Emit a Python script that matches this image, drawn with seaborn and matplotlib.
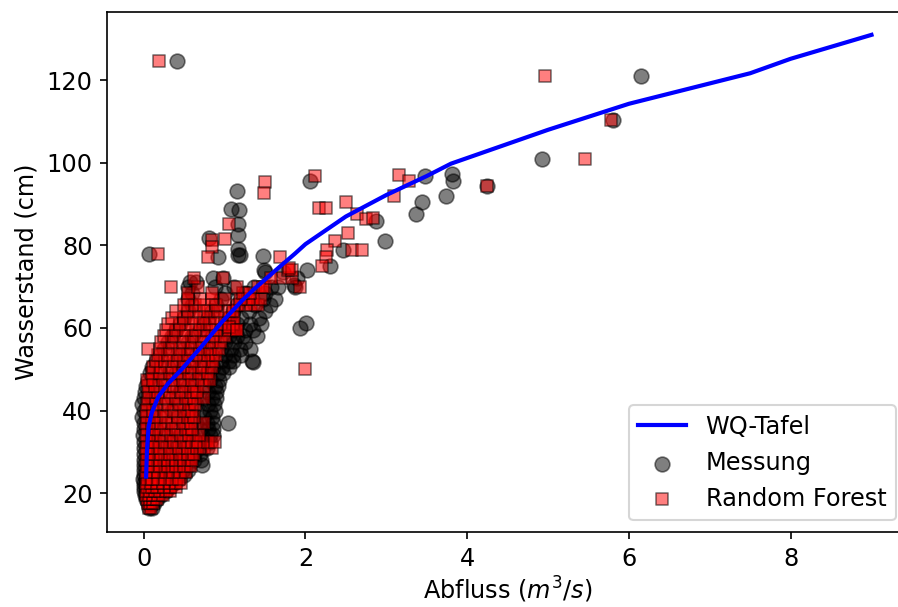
import matplotlib
matplotlib.use('Agg')
import matplotlib.pyplot as plt
import seaborn as sns
import pandas as pd

plt.rcParams['font.size'] = 11.5

# WQ-Tafel (rating curve)
wq_q = [0.03, 0.04, 0.06, 0.1, 0.18, 0.3, 0.47, 0.71, 0.96, 1.21, 1.37, 1.68, 1.87,
        2.0, 2.5, 3.0, 3.5, 3.8, 5.0, 6.0, 7.5, 8.0, 9.0]
wq_h = [24, 30, 36, 39.5, 43.3, 46.5, 50, 55.4, 61.3, 66.5, 69.5, 74.8, 78,
        80.3, 87, 92.2, 96.8, 99.8, 108, 114.3, 121.7, 125.2, 131]

# Messung: dense core, one row of discharge values per water level
messung_core_h = [16.5, 17.5, 18.5, 19.5, 20.5, 21.5, 22.5, 23.5, 24.5, 25.5, 26.8, 28,
                  29.5, 31, 32.5, 34, 35.5, 37, 38.5, 40, 41.5, 43, 44.5, 46, 47.5, 49,
                  50.5, 52, 53.5, 55, 56.5, 58, 59.5, 61, 62.5, 64, 65.5, 67, 68.5, 70,
                  71.2, 72]
messung_core_q = [
    [0.07, 0.10],
    [0.05, 0.09, 0.13],
    [0.03, 0.07, 0.11, 0.16],
    [0.02, 0.06, 0.10, 0.15, 0.21],
    [0.0, 0.04, 0.09, 0.14, 0.2, 0.27],
    [0.0, 0.05, 0.1, 0.17, 0.25, 0.33],
    [0.0, 0.04, 0.09, 0.15, 0.22, 0.3, 0.38],
    [-0.01, 0.03, 0.08, 0.14, 0.2, 0.28, 0.36, 0.44],
    [0.0, 0.05, 0.12, 0.18, 0.26, 0.34, 0.42, 0.5],
    [0.0, 0.06, 0.13, 0.22, 0.3, 0.4, 0.48, 0.55],
    [0.0, 0.05, 0.14, 0.25, 0.35, 0.46, 0.56, 0.72],
    [0.0, 0.07, 0.18, 0.3, 0.42, 0.54, 0.62, 0.71],
    [0.0, 0.08, 0.2, 0.35, 0.5, 0.62, 0.7],
    [0.0, 0.1, 0.25, 0.4, 0.55, 0.68, 0.78],
    [0.0, 0.08, 0.2, 0.35, 0.5, 0.65, 0.75, 0.82],
    [-0.01, 0.1, 0.28, 0.45, 0.6, 0.72, 0.82, 0.86],
    [0.0, 0.15, 0.35, 0.55, 0.7, 0.8, 0.86],
    [0.0, 0.1, 0.3, 0.5, 0.65, 0.78, 0.86, 1.04],
    [-0.02, 0.2, 0.42, 0.6, 0.75, 0.85],
    [0.0, 0.12, 0.35, 0.55, 0.7, 0.82, 0.88],
    [-0.02, 0.25, 0.45, 0.65, 0.8, 0.87],
    [0.0, 0.1, 0.35, 0.55, 0.72, 0.85, 0.9],
    [0.02, 0.2, 0.45, 0.65, 0.8, 0.9],
    [0.03, 0.15, 0.35, 0.55, 0.75, 0.88, 0.92],
    [0.05, 0.25, 0.45, 0.65, 0.82, 0.93],
    [0.08, 0.2, 0.4, 0.6, 0.78, 0.92, 0.98],
    [0.1, 0.3, 0.5, 0.7, 0.86, 0.97, 1.05],
    [0.15, 0.4, 0.6, 0.8, 0.95, 1.05, 1.1, 1.34],
    [0.2, 0.45, 0.65, 0.85, 1.0, 1.1, 1.2],
    [0.25, 0.5, 0.75, 0.95, 1.08, 1.19, 1.31],
    [0.3, 0.55, 0.8, 1.0, 1.12, 1.25],
    [0.35, 0.6, 0.85, 1.05, 1.15, 1.23, 1.4],
    [0.4, 0.7, 0.95, 1.1, 1.25, 1.35],
    [0.45, 0.75, 1.0, 1.15, 1.31, 1.45],
    [0.5, 0.8, 1.05, 1.2, 1.43],
    [0.55, 0.85, 1.1, 1.3, 1.5],
    [0.6, 0.9, 1.15, 1.38, 1.56],
    [0.55, 0.95, 1.2, 1.47, 1.62],
    [0.6, 1.0, 1.25, 1.5],
    [0.55, 0.88, 1.12, 1.37, 1.58, 1.66, 1.87],
    [0.57, 0.65],
    [0.86, 0.98, 1.89],
]
# Messung: scattered points
messung_q = [1.5, 1.72, 1.49, 2.02, 0.066, 0.81, 0.92, 1.19, 1.47, 1.15, 1.08, 1.18, 1.17,
             1.17, 1.17, 1.17, 0.415, 2.06, 2.87, 3.48, 3.81, 3.83, 3.74, 3.44, 3.37,
             2.46, 2.98, 2.3, 1.86, 2.01, 1.93, 1.35, 4.25, 4.93, 5.8, 6.15]
messung_h = [73.6, 73.6, 74, 74, 77.8, 81.7, 77.2, 77.6, 77.5, 93.1, 88.7, 88.5, 85.3,
             82.5, 79.2, 77.6, 124.6, 95.5, 86, 96.7, 97.2, 95.5, 92, 90.4, 87.7,
             79, 81, 75, 70.5, 61.2, 60, 51.8, 94.3, 101, 110.3, 121]

# Random Forest: dense core
rf_core_h = [16.5, 17.5, 18.5, 19.5, 20.5, 21.5, 22.5, 23.5, 25, 26.5, 28, 29.5, 31,
             32.5, 34, 35.5, 37, 38.5, 40, 41.5, 43, 44.5, 46, 47.5, 49, 50.5, 52,
             53.5, 55, 56.5, 58, 59.5, 61, 62.5, 64, 65.5, 67, 68.5, 70, 72, 74]
rf_core_q = [
    [0.06, 0.09],
    [0.05, 0.08, 0.12],
    [0.04, 0.08, 0.12, 0.17],
    [0.03, 0.07, 0.12, 0.18, 0.24],
    [0.03, 0.08, 0.14, 0.2, 0.27, 0.33],
    [0.04, 0.1, 0.17, 0.25, 0.33, 0.4],
    [0.03, 0.09, 0.16, 0.24, 0.32, 0.4, 0.46],
    [0.04, 0.1, 0.18, 0.26, 0.35, 0.44],
    [0.03, 0.1, 0.18, 0.27, 0.36, 0.45, 0.52],
    [0.04, 0.12, 0.2, 0.3, 0.4, 0.5, 0.58],
    [0.03, 0.1, 0.2, 0.3, 0.4, 0.5, 0.6],
    [0.04, 0.12, 0.22, 0.33, 0.45, 0.55, 0.62],
    [0.03, 0.1, 0.2, 0.32, 0.44, 0.55, 0.66, 0.75, 0.84],
    [0.04, 0.14, 0.26, 0.38, 0.5, 0.6, 0.67, 0.8, 0.88],
    [0.03, 0.1, 0.22, 0.34, 0.46, 0.56, 0.69],
    [0.04, 0.15, 0.28, 0.4, 0.52, 0.6],
    [0.03, 0.1, 0.22, 0.35, 0.48, 0.58, 0.75],
    [0.04, 0.15, 0.28, 0.42, 0.55, 0.62],
    [0.03, 0.12, 0.25, 0.38, 0.5, 0.6],
    [0.04, 0.16, 0.3, 0.44, 0.56, 0.63],
    [0.05, 0.15, 0.28, 0.4, 0.52, 0.62, 0.75],
    [0.06, 0.18, 0.32, 0.46, 0.58, 0.66],
    [0.05, 0.14, 0.26, 0.38, 0.5, 0.62, 0.74],
    [0.04, 0.12, 0.24, 0.36, 0.48, 0.6, 0.72, 0.82],
    [0.1, 0.2, 0.32, 0.44, 0.56, 0.68, 0.8],
    [0.12, 0.22, 0.35, 0.48, 0.6, 0.72, 0.84],
    [0.15, 0.26, 0.38, 0.5, 0.62, 0.74, 0.86],
    [0.18, 0.3, 0.42, 0.55, 0.68, 0.8, 0.9],
    [0.05, 0.2, 0.32, 0.45, 0.58, 0.7, 0.82, 0.93],
    [0.22, 0.35, 0.48, 0.6, 0.72, 0.85, 0.95],
    [0.25, 0.38, 0.5, 0.62, 0.75, 0.88, 1.0],
    [0.28, 0.4, 0.52, 0.65, 0.78, 0.9, 1.06, 1.15],
    [0.3, 0.45, 0.58, 0.7, 0.82, 0.95, 1.1],
    [0.35, 0.5, 0.62, 0.75, 0.88, 1.0, 1.12],
    [0.4, 0.55, 0.68, 0.8, 0.92, 1.05, 1.1],
    [0.5, 0.63, 0.75, 0.9, 1.15, 1.27, 1.33, 1.41],
    [0.55, 0.7, 0.84, 1.0, 1.19, 1.29, 1.35, 1.45],
    [0.55, 0.84, 1.23, 1.31],
    [0.34, 0.67, 1.15, 1.41, 1.5, 1.47, 1.93],
    [0.62, 0.98, 1.7, 1.84],
    [1.78, 1.83],
]
# Random Forest: scattered points
rf_q = [0.18, 0.185, 1.06, 1.0, 0.84, 0.84, 0.79, 1.5, 1.49, 1.69, 1.58, 2.12, 2.17,
        2.26, 2.5, 2.64, 2.75, 2.84, 3.16, 3.28, 3.1, 2.53, 2.37, 2.27, 2.26, 2.57,
        2.7, 2.2, 1.8, 2.0, 4.96, 5.78, 5.46, 4.25, 1.06, 1.15]
rf_h = [77.8, 124.6, 85.1, 81.6, 81.3, 79.5, 77.2, 95.4, 92.8, 77.2, 72.2, 96.7, 89,
        89, 90.4, 87.5, 86.3, 86.7, 97, 95.5, 92, 83, 81, 79, 77.3, 79,
        79, 75, 74.6, 50, 121, 110.3, 101, 94.3, 60.3, 59.5]


def to_frame(core_h, core_q, q, h):
    rows_q = [x for row in core_q for x in row] + list(q)
    rows_h = [y for y, row in zip(core_h, core_q) for _ in row] + list(h)
    return pd.DataFrame({'Q': rows_q, 'H': rows_h})


messung = to_frame(messung_core_h, messung_core_q, messung_q, messung_h)
rf = to_frame(rf_core_h, rf_core_q, rf_q, rf_h)
wq = pd.DataFrame({'Q': wq_q, 'H': wq_h})

fig = plt.figure(figsize=(898 / 150, 607 / 150), dpi=150)
ax = fig.add_axes([0.1195, 0.123, 0.8915, 0.857])

sns.lineplot(data=wq, x='Q', y='H', color='blue', linewidth=2, label='WQ-Tafel', ax=ax)
sns.scatterplot(data=messung, x='Q', y='H', color='black', alpha=0.5, s=50,
                edgecolor='black', linewidth=0.8, marker='o', label='Messung', ax=ax)
sns.scatterplot(data=rf, x='Q', y='H', color='red', alpha=0.5, s=36,
                edgecolor='black', linewidth=0.8, marker='s', label='Random Forest', ax=ax)

ax.set_xlim(-0.45, 9.45)
ax.set_ylim(10.5, 136.5)
ax.set_xlabel('Abfluss ($m^3/s$)', labelpad=2)
ax.set_ylabel('Wasserstand (cm)')
ax.legend(loc='lower right')

fig.savefig('out.png', dpi=150)
